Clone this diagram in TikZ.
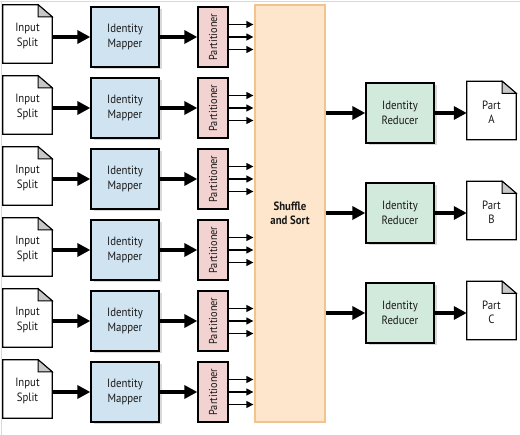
\documentclass[tikz,border=0pt]{standalone}
\usepackage{fontspec}
\setmainfont{PT Sans}[FakeStretch=0.9]
\usetikzlibrary{calc,arrows.meta,shadows}
\definecolor{mapblue}{HTML}{CFE3F1}
\definecolor{redgreen}{HTML}{D2EADB}
\definecolor{partpink}{HTML}{F3D2D2}
\definecolor{shufill}{HTML}{FDE6CB}
\definecolor{shuline}{HTML}{F0C48C}
\definecolor{foldgray}{HTML}{C8C8C8}
% page with folded corner, drawn round a named node
\def\docpage#1{%
  \draw[line width=1.2pt, fill=white] (#1.north west) -- ([xshift=-14pt]#1.north east) -- ([yshift=-12pt]#1.north east) -- (#1.south east) -- (#1.south west) -- cycle;
  \draw[line width=1pt, fill=foldgray] ([xshift=-14pt]#1.north east) -- ([xshift=-14pt,yshift=-12pt]#1.north east) -- ([yshift=-12pt]#1.north east) -- cycle;}

\begin{document}
\begin{tikzpicture}[x=1pt, y=-1pt,
    every node/.style={font=\fontsize{12}{14.5}\selectfont, text=black!90, align=center, inner sep=0pt},
    doc/.style={minimum width=49pt, minimum height=58pt},
    mapper/.style={draw, line width=1.3pt, fill=mapblue, minimum width=68pt, minimum height=60pt, drop shadow={shadow xshift=2.5pt, shadow yshift=-2.5pt, opacity=0.3}},
    reducer/.style={mapper, fill=redgreen},
    partbox/.style={draw, line width=1.3pt, fill=partpink, minimum width=30pt, minimum height=60pt},
    bigarrow/.style={line width=3.5pt, -{Triangle[length=13pt, width=13pt]}},
    smallarrow/.style={line width=1.3pt, -{Triangle[length=7pt, width=7pt]}}]

  \useasboundingbox (0,0) rectangle (520,435);
  \draw[black!15, line width=0.8pt] (0,1.5) -- (520,1.5);
  \draw[black!15, line width=0.8pt] (1.5,1.5) -- (1.5,435);

  %%%%% SHUFFLE %%%%%
  \node[draw=shuline, line width=1.3pt, fill=shufill, minimum width=70pt, minimum height=417pt, font=\fontsize{12}{14.5}\selectfont\bfseries] (sh) at (290,213.5) {Shuffle\\and Sort};

  %%%%% MAP SIDE %%%%%
  \foreach \i in {1,...,6} {
    \pgfmathsetmacro{\cy}{37+71*(\i-1)}
    \node[doc] (in\i) at (27.5,\cy-3) {};
    \docpage{in\i}
    \node at ([yshift=-2pt]in\i.center) {Input\\Split};
    \node[mapper] (map\i) at (125,\cy) {Identity\\Mapper};
    \node[partbox] (part\i) at (213,\cy) {};
    \node[rotate=90, font=\fontsize{11.5}{13}\selectfont] at (part\i.center) {Partitioner};
    \draw[bigarrow] (in\i.east |- map\i.west) -- (map\i.west);
    \draw[bigarrow] (map\i.east) -- (part\i.west);
    \foreach \dy in {-12.5,0,12.5}
      \draw[smallarrow] ($(part\i.east)+(0,\dy)$) -- ($(part\i.east -| sh.west)+(-1,\dy)$);
  }

  %%%%% REDUCE SIDE %%%%%
  \foreach \j/\lbl in {1/A,2/B,3/C} {
    \pgfmathsetmacro{\ry}{113+100*(\j-1)}
    \node[reducer] (red\j) at (400,\ry) {Identity\\Reducer};
    \node[doc] (out\j) at (491.5,\ry-2.5) {};
    \docpage{out\j}
    \node at ([yshift=-2pt]out\j.center) {Part\\\lbl};
    \draw[bigarrow] (sh.east |- red\j.west) -- (red\j.west);
    \draw[bigarrow] (red\j.east) -- (red\j.east -| out\j.west);
  }
\end{tikzpicture}
\end{document}
